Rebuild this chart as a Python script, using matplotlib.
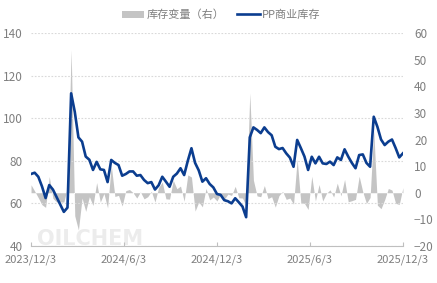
import numpy as np
import matplotlib
matplotlib.use("Agg")
import matplotlib.pyplot as plt

plt.rcParams["font.family"] = ["Noto Sans CJK SC", "DejaVu Sans"]

# PP commercial inventory (left axis), weekly
pp_stock = [73.8, 74.4, 72.5, 68.0, 62.5, 68.6, 66.5, 63.0, 59.5, 56.0, 58.0,
            111.7, 103, 91, 89, 82, 80.5, 75.7, 79.5, 76, 75.7,
            70, 80.4, 79, 78, 73, 73.8, 75, 75, 73, 73.3,
            71, 69.5, 70, 66.5, 68.5, 72.5, 70.2, 67.8, 72.5, 74,
            76.5, 73.3, 80, 85.9, 79, 75.5, 70.2, 71.8, 69.1, 67.5,
            64.4, 64, 61.5, 61, 60, 62.4, 60.5, 58.5, 53.5, 91,
            95.7, 94.5, 93, 95.7, 93.5, 92, 86.6, 85.5, 86, 83.5,
            81.5, 77.2, 89.8, 86, 82, 75.7, 81.9, 78.8, 81.9, 78.8,
            78.5, 79.6, 78, 81.6, 80.4, 85.4, 82, 79, 76.5, 82.7,
            83, 79, 77.2, 100.7, 96, 90, 87.4, 89, 90, 86,
            81.6, 83.5]

# inventory change (right axis)
stock_change = [3, 0.6, -1.9, -4.5, -5.5, 6.1, -2.1, -3.5, -3.5, -3.5, 2,
                53.7, -8.7, -14, -2, -7, -1.5, -4.8, 3.8, -3.5, -0.3,
                -5.7, 10.4, -1.4, -1, -5, 0.8, 1.2, 0, -2, 0.3,
                -2.3, -1.5, 0.5, -3.5, 2, 4, -2.3, -2.4, 4.7, 1.5,
                2.5, -3.2, 6.7, 5.9, -6.9, -3.5, -5.3, 1.6, -2.7, -1.6,
                -3.1, -0.4, -2.5, -0.5, -1, 2.4, -1.9, -2, -5, 37.5,
                4.7, -1.2, -1.5, 2.7, -2.2, -1.5, -5.4, -1.1, 0.5, -2.5,
                -2, -4.3, 12.6, -3.8, -4, -6.3, 6.2, -3.1, 3.1, -3.1,
                -0.3, 1.1, -1.6, 3.6, -1.2, 5, -3.4, -3, -2.5, 6.2,
                0.3, -4, -1.8, 23.5, -4.7, -6, -2.6, 1.6, 1, -4,
                -4.4, 1.9]

date_labels = ["2023/12/3", "2024/6/3", "2024/12/3", "2025/6/3", "2025/12/3"]

grey = "#7f7f7f"
blue = "#0b3d8f"

x = np.arange(len(pp_stock))

fig = plt.figure(figsize=(4.37, 2.83), dpi=100)

# faint watermark behind the plot
fig.text(0.085, 0.12, "OILCHEM", fontsize=15, fontweight="bold",
         color="#ececec", zorder=0, family="DejaVu Sans", va="bottom")

ax = fig.add_axes([0.071, 0.131, 0.851, 0.752])
ax2 = ax.twinx()
ax2.patch.set_visible(False)

ax2.fill_between(x, 0, stock_change, color="#c4c4c4", linewidth=0, zorder=1,
                 label="库存变量（右）")
ax.plot(x, pp_stock, color=blue, lw=1.9, zorder=5, label="PP商业库存")

ax.set_zorder(ax2.get_zorder() + 1)
ax.patch.set_visible(False)

ax.set_ylim(40, 140)
ax.set_yticks([40, 60, 80, 100, 120, 140])
ax2.set_ylim(-20, 60)
ax2.set_yticks([-20, -10, 0, 10, 20, 30, 40, 50, 60])
ax.set_xlim(0, len(x) - 1)
ax.set_xticks(np.linspace(0, len(x) - 1, len(date_labels)))
ax.set_xticklabels(date_labels)

ax.grid(axis="y", color="#d9d9d9", linestyle=(0, (1.5, 1.5)), lw=0.8)
for a in (ax, ax2):
    for s in ("top", "left", "right", "bottom"):
        a.spines[s].set_visible(False)
ax.spines["bottom"].set_visible(True)
ax.spines["bottom"].set_color("#bfbfbf")

ax.tick_params(axis="y", length=0, labelsize=8.5, labelcolor=grey, pad=6)
ax2.tick_params(axis="y", length=0, labelsize=8.5, labelcolor=grey, pad=8)
ax.tick_params(axis="x", length=3, direction="in", color="#bfbfbf",
               labelsize=8, labelcolor=grey, pad=6)

h1, l1 = ax2.get_legend_handles_labels()
h2, l2 = ax.get_legend_handles_labels()
fig.legend(h1 + h2, l1 + l2, loc="center", bbox_to_anchor=(0.506, 0.947),
           ncol=2, frameon=False, fontsize=8, labelcolor=grey,
           handlelength=2.0, columnspacing=1.2, handletextpad=0.2)

fig.savefig("out.png", dpi=100)
